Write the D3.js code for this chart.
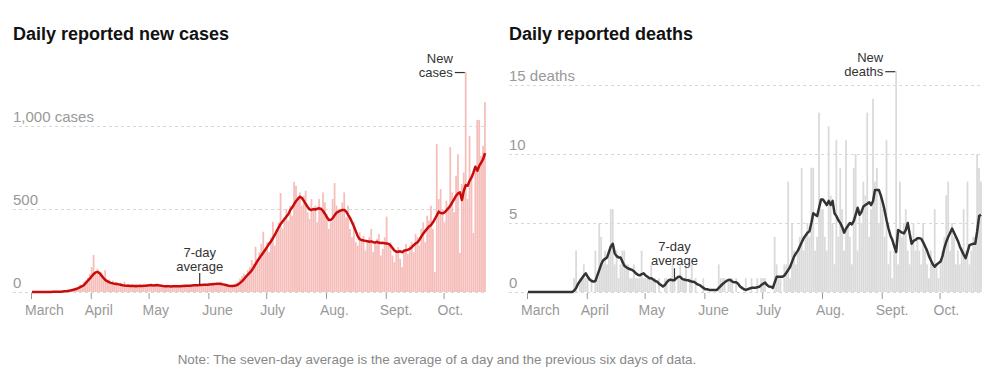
<!DOCTYPE html>
<html>
<head>
<meta charset="utf-8">
<script src="https://cdn.jsdelivr.net/npm/d3@7.9.0/dist/d3.min.js"></script>
<style>
  body { margin: 0; background: #fff; }
  svg { display: block; font-family: "Liberation Sans", Arial, sans-serif; }
</style>
</head>
<body>
<svg id="chart" width="1000" height="375"></svg>
<script>
// ------------------------------------------------------------
// Data: one value per day, March 1 to Oct. 22, 2020
// ------------------------------------------------------------
const newCases = [
  // March
  0,0,0,0,0,0,0,0,0,0,0,2,0,1,3,1,4,5,6,10,8,15,20,28,18,45,40,62,70,85,110,
  // April
  150,223,120,140,105,118,90,132,60,75,52,68,45,58,40,55,44,62,35,48,30,42,38,50,28,40,35,44,30,46,
  // May
  38,52,30,45,48,36,28,40,42,30,25,38,36,44,30,28,40,38,46,32,35,44,40,36,48,38,45,42,50,38,46,
  // June
  50,44,58,40,52,48,62,45,40,35,30,38,42,48,55,62,80,95,110,90,132,150,193,170,273,200,240,290,363,260,
  // July
  300,240,330,422,280,360,420,596,380,450,500,430,520,460,663,640,560,600,520,580,610,480,440,560,500,520,420,560,510,600,540,
  // Aug.
  470,380,420,560,656,520,500,480,540,600,450,520,380,330,420,300,280,360,320,340,250,310,330,380,240,300,320,350,220,260,330,
  // Sept.
  454,280,300,220,180,250,270,200,150,260,290,230,280,300,240,350,330,280,380,420,300,460,430,520,380,120,891,560,620,500,
  // Oct.
  420,550,520,873,600,480,700,830,235,650,720,1325,560,940,700,355,760,1036,1036,820,880,1144
];

const casesAvg = [
  // March
  0,0,0,0,0,0,0,0,0,0,0,1,1,1,2,2,3,4,5,7,9,12,15,18,24,30,36,42,55,68,80,
  // April
  95,108,118,121,114,100,86,73,65,59,55,52,50,48,46,44,41,39,38,37,36,37,36,35,36,37,36,37,38,39,
  // May
  40,40,39,41,42,40,38,36,35,34,34,33,34,35,34,34,35,36,36,37,38,38,39,40,40,41,42,42,43,44,44,
  // June
  45,46,47,48,49,49,48,46,44,41,38,36,36,37,40,46,55,66,78,92,104,116,130,148,168,188,205,222,238,255,
  // July
  272,290,305,325,345,368,390,410,425,440,455,470,494,510,530,548,562,574,566,550,530,512,498,494,500,496,502,504,500,488,470,
  // Aug.
  450,434,434,445,462,478,484,490,494,494,484,465,445,420,395,365,335,318,313,310,308,306,303,305,300,298,302,296,295,296,293,
  // Sept.
  292,290,280,265,250,243,242,245,240,248,252,255,260,270,282,292,300,315,335,352,368,382,395,404,420,440,462,484,476,474,
  // Oct.
  480,492,505,520,540,560,580,594,600,554,610,644,640,670,690,720,755,730,760,780,800,837
];

const newDeaths = [
  // March
  0,0,0,0,0,0,0,0,0,0,0,0,0,0,0,0,0,0,0,0,0,0,0,0,1,3,0,1,1,2,1,
  // April
  1,0,1,0,3,1,5,4,2,3,2,3,6,6,2,3,1,2,3,3,2,2,1,1,2,1,1,1,3,1,
  // May
  1,1,1,2,1,1,0,1,0,0,1,1,0,1,2,1,0,1,2,1,1,2,0,1,2,0,1,0,0,0,1,
  // June
  0,0,0,0,0,0,0,2,1,1,1,0,1,1,1,0,1,0,0,0,0,1,0,0,1,0,0,1,0,1,
  // July
  1,1,0,0,0,0,4,2,1,1,0,2,2,8,1,5,3,2,3,4,9,3,4,5,4,9,9,3,4,13,6,
  // Aug.
  6,4,3,12,7,5,2,11,4,9,6,3,11,5,4,2,9,10,3,6,5,8,7,13,4,6,14,8,9,5,7,
  // Sept.
  6,4,11,2,3,1,3,16,2,8,4,5,6,3,2,4,5,3,4,3,2,5,3,2,1,3,2,6,2,1,
  // Oct.
  2,3,4,7,8,3,5,4,2,3,2,3,6,3,8,2,3,4,4,10,9,8
];

const deathsAvg = [
  // March
  0,0,0,0,0,0,0,0,0,0,0,0,0,0,0,0,0,0,0,0,0,0,0,0,0.1,0.3,0.6,0.8,1.0,1.2,1.35,
  // April
  1.1,0.9,0.8,0.75,0.8,1.2,1.6,2.0,2.3,2.4,2.5,2.9,3.3,3.5,2.8,2.6,2.5,2.5,2.2,1.9,1.8,1.7,1.65,1.6,1.5,1.35,1.25,1.2,1.3,1.35,
  // May
  1.2,1.1,1.0,1.0,0.9,0.8,0.75,0.6,0.5,0.4,0.5,0.7,0.85,0.9,0.85,0.85,1.0,1.1,1.1,0.95,0.9,0.87,0.85,0.8,0.75,0.75,0.65,0.55,0.5,0.4,0.3,
  // June
  0.2,0.2,0.15,0.15,0.15,0.15,0.15,0.3,0.45,0.58,0.7,0.8,0.87,0.87,0.75,0.7,0.7,0.6,0.4,0.3,0.2,0.15,0.2,0.25,0.3,0.3,0.3,0.35,0.38,0.5,
  // July
  0.6,0.68,0.5,0.4,0.38,0.3,0.7,1.1,1.1,1.1,1.1,1.2,1.4,1.6,1.83,2.2,2.56,2.8,3.0,3.3,3.6,3.9,4.1,4.3,4.4,5.0,5.7,5.6,5.5,6.1,6.7,
  // Aug.
  6.7,6.5,6.3,6.6,6.3,6.6,5.7,5.5,5.2,5.0,4.7,4.3,4.6,4.8,5.0,4.9,5.15,5.6,6.1,5.6,5.8,6.2,6.3,6.4,6.5,6.3,6.6,7.4,7.4,7.4,7.0,
  // Sept.
  6.5,5.9,5.2,4.6,4.1,3.77,3.3,2.9,4.5,4.4,4.3,4.25,4.5,5.0,4.2,3.5,3.7,3.77,3.9,3.9,3.85,3.6,3.3,3.0,2.6,2.3,2.0,1.83,2.0,2.1,
  // Oct.
  2.2,2.6,3.2,3.65,4.0,4.3,4.6,4.3,4.0,3.7,3.3,3.0,2.7,2.45,2.9,3.4,3.45,3.5,3.5,4.4,5.5,5.6
];

const monthLabels = ["March", "April", "May", "June", "July", "Aug.", "Sept.", "Oct."];
const caseTicks = [0, 500, 1000];
const deathTicks = [0, 5, 10, 15];

const startDate = new Date(Date.UTC(2020, 2, 1));
const endDate = new Date(Date.UTC(2020, 9, 23));
const days = newCases.map((_, i) => d3.utcDay.offset(startDate, i));
const monthStarts = d3.utcMonth.range(startDate, endDate);

const svg = d3.select("#chart");

function drawPanel(opts) {
  const { left, right, title, bars, avg, yMax, ticks, unit,
          barColor, lineColor, newLabel, newIdx, avgIdx, avgLabelY } = opts;

  const x = d3.scaleUtc().domain([startDate, endDate]).range([left, right]);
  const y = d3.scaleLinear().domain([0, yMax]).range([292, 292 - yMax * opts.pxPerUnit]);
  const step = x(days[1]) - x(days[0]);

  const g = svg.append("g");

  // Title
  g.append("text")
    .attr("x", left - 18)
    .attr("y", 40)
    .attr("font-size", "18px")
    .attr("font-weight", "bold")
    .attr("fill", "#121212")
    .text(title);

  // Gridlines + y labels
  const grid = g.append("g");
  grid.selectAll("line")
    .data(ticks)
    .enter().append("line")
    .attr("x1", left - 18)
    .attr("x2", right)
    .attr("y1", d => y(d) + 0.5)
    .attr("y2", d => y(d) + 0.5)
    .attr("stroke", "#d8d8d8")
    .attr("stroke-dasharray", "3,3");

  grid.selectAll("text")
    .data(ticks)
    .enter().append("text")
    .attr("x", left - 18)
    .attr("y", d => y(d) - 4)
    .attr("font-size", "15px")
    .attr("fill", "#999")
    .text((d, i) => i === ticks.length - 1 ? d3.format(",")(d) + " " + unit : d3.format(",")(d));

  // Bars
  g.append("g").selectAll("rect")
    .data(bars)
    .enter().append("rect")
    .attr("x", (d, i) => x(days[i]))
    .attr("y", d => y(d))
    .attr("width", step - 0.15)
    .attr("height", d => 292 - y(d))
    .attr("fill", barColor);

  // 7-day average line
  const line = d3.line()
    .x((d, i) => x(days[i]) + step / 2)
    .y(d => y(d));

  g.append("path")
    .datum(avg)
    .attr("d", line)
    .attr("fill", "none")
    .attr("stroke", lineColor)
    .attr("stroke-width", 2.5)
    .attr("stroke-linejoin", "round");

  // Month ticks
  const axis = g.append("g");
  axis.selectAll("line")
    .data(monthStarts)
    .enter().append("line")
    .attr("x1", d => x(d) + 0.5)
    .attr("x2", d => x(d) + 0.5)
    .attr("y1", 293)
    .attr("y2", 299)
    .attr("stroke", "#999");

  axis.selectAll("text")
    .data(monthStarts)
    .enter().append("text")
    .attr("x", d => x(d) - 6)
    .attr("y", 315)
    .attr("font-size", "14px")
    .attr("fill", "#999")
    .text((d, i) => monthLabels[i]);

  // "New ..." annotation at tallest bar
  const nx = x(days[newIdx]);
  const ny = y(bars[newIdx]);
  g.append("line")
    .attr("x1", nx - 10).attr("x2", nx)
    .attr("y1", ny + 0.5).attr("y2", ny + 0.5)
    .attr("stroke", "#333").attr("stroke-width", 1.2);
  const nt = g.append("text")
    .attr("text-anchor", "end")
    .attr("font-size", "13px")
    .attr("fill", "#333");
  nt.append("tspan").attr("x", nx - 12).attr("y", ny - 9).text("New");
  nt.append("tspan").attr("x", nx - 12).attr("y", ny + 5).text(newLabel);

  // "7-day average" annotation
  const ax = x(days[avgIdx]) + step / 2;
  const ay = y(avg[avgIdx]);
  g.append("line")
    .attr("x1", ax).attr("x2", ax)
    .attr("y1", ay - 12).attr("y2", ay)
    .attr("stroke", "#333").attr("stroke-width", 1.2);
  const at = g.append("text")
    .attr("text-anchor", "middle")
    .attr("font-size", "13px")
    .attr("fill", "#333");
  at.append("tspan").attr("x", ax).attr("y", avgLabelY).text("7-day");
  at.append("tspan").attr("x", ax).attr("y", avgLabelY + 14).text("average");
}

drawPanel({
  left: 31, right: 486,
  title: "Daily reported new cases",
  bars: newCases, avg: casesAvg,
  yMax: 1330, pxPerUnit: 0.166,
  ticks: caseTicks, unit: "cases",
  barColor: "#f6bebb", lineColor: "#c80c0c",
  newLabel: "cases", newIdx: 225,
  avgIdx: 87, avgLabelY: 257
});

drawPanel({
  left: 527, right: 982,
  title: "Daily reported deaths",
  bars: newDeaths, avg: deathsAvg,
  yMax: 16, pxPerUnit: 13.8,
  ticks: deathTicks, unit: "deaths",
  barColor: "#dadada", lineColor: "#333",
  newLabel: "deaths", newIdx: 191,
  avgIdx: 76, avgLabelY: 251
});

// Footnote
svg.append("text")
  .attr("x", 437)
  .attr("y", 364)
  .attr("text-anchor", "middle")
  .attr("font-size", "13.4px")
  .attr("fill", "#888")
  .text("Note: The seven-day average is the average of a day and the previous six days of data.");
</script>
</body>
</html>
